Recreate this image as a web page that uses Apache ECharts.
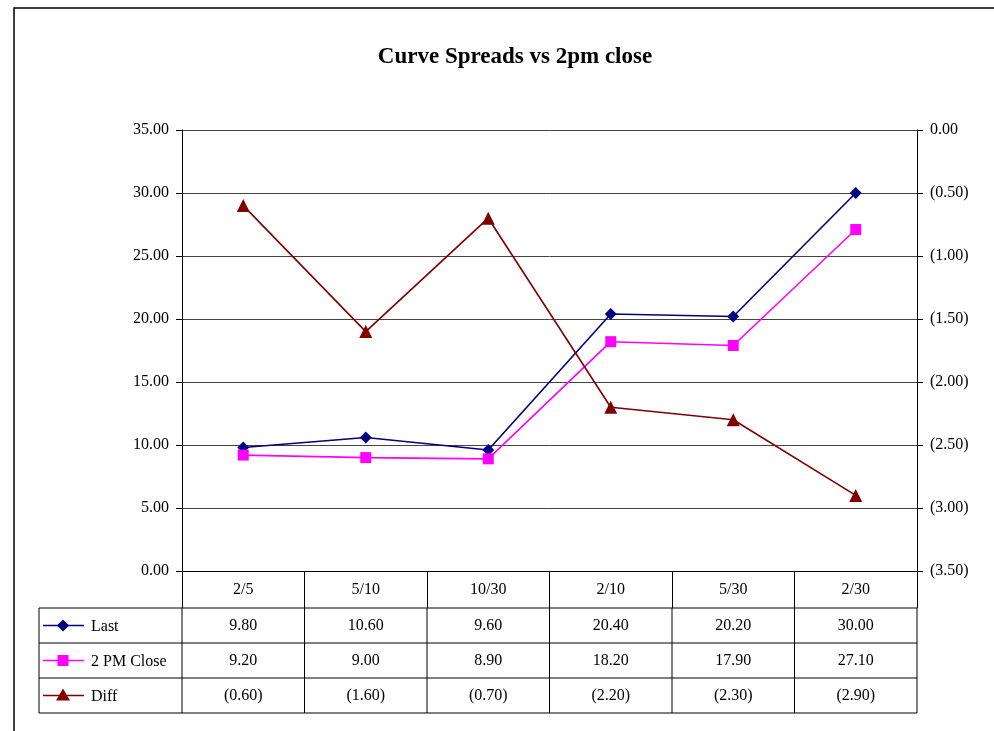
<!DOCTYPE html>
<html><head><meta charset="utf-8">
<script src="https://cdn.jsdelivr.net/npm/echarts@6/dist/echarts.min.js"></script>
<style>html,body{margin:0;padding:0;background:#fff}#c{width:994px;height:731px}</style>
</head><body><div id="c"></div>
<script>
const categories = ['2/5', '5/10', '10/30', '2/10', '5/30', '2/30'];
const lastValues = [9.80, 10.60, 9.60, 20.40, 20.20, 30.00];
const closeValues = [9.20, 9.00, 8.90, 18.20, 17.90, 27.10];
const diffValues = [-0.60, -1.60, -0.70, -2.20, -2.30, -2.90];
const seriesNames = ['Last', '2 PM Close', 'Diff'];
const titleText = 'Curve Spreads vs 2pm close';

const FONT = '"Liberation Serif", "DejaVu Serif", serif';
const FS = 16;
const colors = ['#000080', '#FF00FF', '#800000'];
const symbols = ['diamond', 'rect', 'triangle'];
const symbolSizes = [12, 11, 13];
const fmt = v => v < 0 ? '(' + Math.abs(v).toFixed(2) + ')' : v.toFixed(2);

const chart = echarts.init(document.getElementById('c'), null, {renderer: 'canvas'});
const G = {left: 182, right: 77, top: 130, bottom: 160};
const allData = [lastValues, closeValues, diffValues];

chart.setOption({
  animation: false,
  backgroundColor: '#fff',
  textStyle: {fontFamily: FONT},
  title: {text: titleText, left: 510, top: 41, textAlign: 'center',
    textStyle: {fontFamily: FONT, fontWeight: 'bold', fontSize: 23, color: '#000'}},
  grid: G,
  xAxis: {type: 'category', data: categories, boundaryGap: true,
    axisLine: {lineStyle: {color: '#000', width: 1}},
    axisTick: {show: true, interval: 0, length: 37, lineStyle: {color: '#000'}},
    axisLabel: {margin: 11, fontSize: FS, color: '#000', fontFamily: FONT, interval: 0}},
  yAxis: [
    {type: 'value', min: 0, max: 35, interval: 5, position: 'left',
      axisLine: {show: true, lineStyle: {color: '#000'}},
      axisTick: {show: true, length: 6, lineStyle: {color: '#000'}},
      axisLabel: {formatter: fmt, fontSize: FS, color: '#000', fontFamily: FONT, margin: 13},
      splitLine: {show: true, lineStyle: {color: '#444', width: 1}}},
    {type: 'value', min: -3.5, max: 0, interval: 0.5, position: 'right',
      axisLine: {show: true, lineStyle: {color: '#000'}},
      axisTick: {show: true, length: 6, lineStyle: {color: '#000'}},
      axisLabel: {formatter: fmt, fontSize: FS, color: '#000', fontFamily: FONT, margin: 13},
      splitLine: {show: false}}
  ],
  series: seriesNames.map((n, i) => ({
    name: n, type: 'line', data: allData[i], yAxisIndex: i === 2 ? 1 : 0,
    symbol: symbols[i], symbolSize: symbolSizes[i], showSymbol: true,
    lineStyle: {color: colors[i], width: 1.6}, itemStyle: {color: colors[i]}
  }))
});

// Data table below the plot, positioned from the axis scale
const c0 = chart.convertToPixel({xAxisIndex: 0}, 0);
const c1 = chart.convertToPixel({xAxisIndex: 0}, 1);
const step = c1 - c0;
const bounds = categories.map((_, i) => chart.convertToPixel({xAxisIndex: 0}, i) - step / 2);
bounds.push(chart.convertToPixel({xAxisIndex: 0}, categories.length - 1) + step / 2);
const yAxisBottom = chart.convertToPixel({yAxisIndex: 0}, 0);
const headerBottom = yAxisBottom + 37;
const rowH = 35;
const tableLeft = 39;
const g = [];
const L = (x1, y1, x2, y2) => g.push({type: 'line', shape: {x1, y1, x2, y2}, style: {stroke: '#000', lineWidth: 1}, silent: true});
for (let r = 0; r <= 3; r++) L(tableLeft, headerBottom + r * rowH, bounds[bounds.length - 1], headerBottom + r * rowH);
L(tableLeft, headerBottom, tableLeft, headerBottom + 3 * rowH);
bounds.forEach(b => L(b, headerBottom, b, headerBottom + 3 * rowH));
allData.forEach((arr, r) => {
  const cy = headerBottom + r * rowH + rowH / 2;
  arr.forEach((v, i) => {
    g.push({type: 'text', x: (bounds[i] + bounds[i + 1]) / 2, y: cy,
      style: {text: fmt(v), textAlign: 'center', textVerticalAlign: 'middle', font: FS + 'px ' + FONT, fill: '#000'}});
  });
  g.push({type: 'line', shape: {x1: 43, y1: cy, x2: 84, y2: cy}, style: {stroke: colors[r], lineWidth: 1.6}});
  if (r === 0) g.push({type: 'polygon', shape: {points: [[63, cy - 6], [69, cy], [63, cy + 6], [57, cy]]}, style: {fill: colors[r]}});
  if (r === 1) g.push({type: 'rect', shape: {x: 63 - 5.5, y: cy - 5.5, width: 11, height: 11}, style: {fill: colors[r]}});
  if (r === 2) g.push({type: 'polygon', shape: {points: [[63, cy - 7], [70, cy + 5], [56, cy + 5]]}, style: {fill: colors[r]}});
  g.push({type: 'text', x: 91, y: cy + 1, style: {text: seriesNames[r], textAlign: 'left', textVerticalAlign: 'middle', font: FS + 'px ' + FONT, fill: '#000'}});
});
// outer frame
g.push({type: 'rect', shape: {x: 14, y: 8, width: 1000, height: 800}, style: {fill: null, stroke: '#000', lineWidth: 1.5}, silent: true});
chart.setOption({graphic: g});
</script></body></html>
